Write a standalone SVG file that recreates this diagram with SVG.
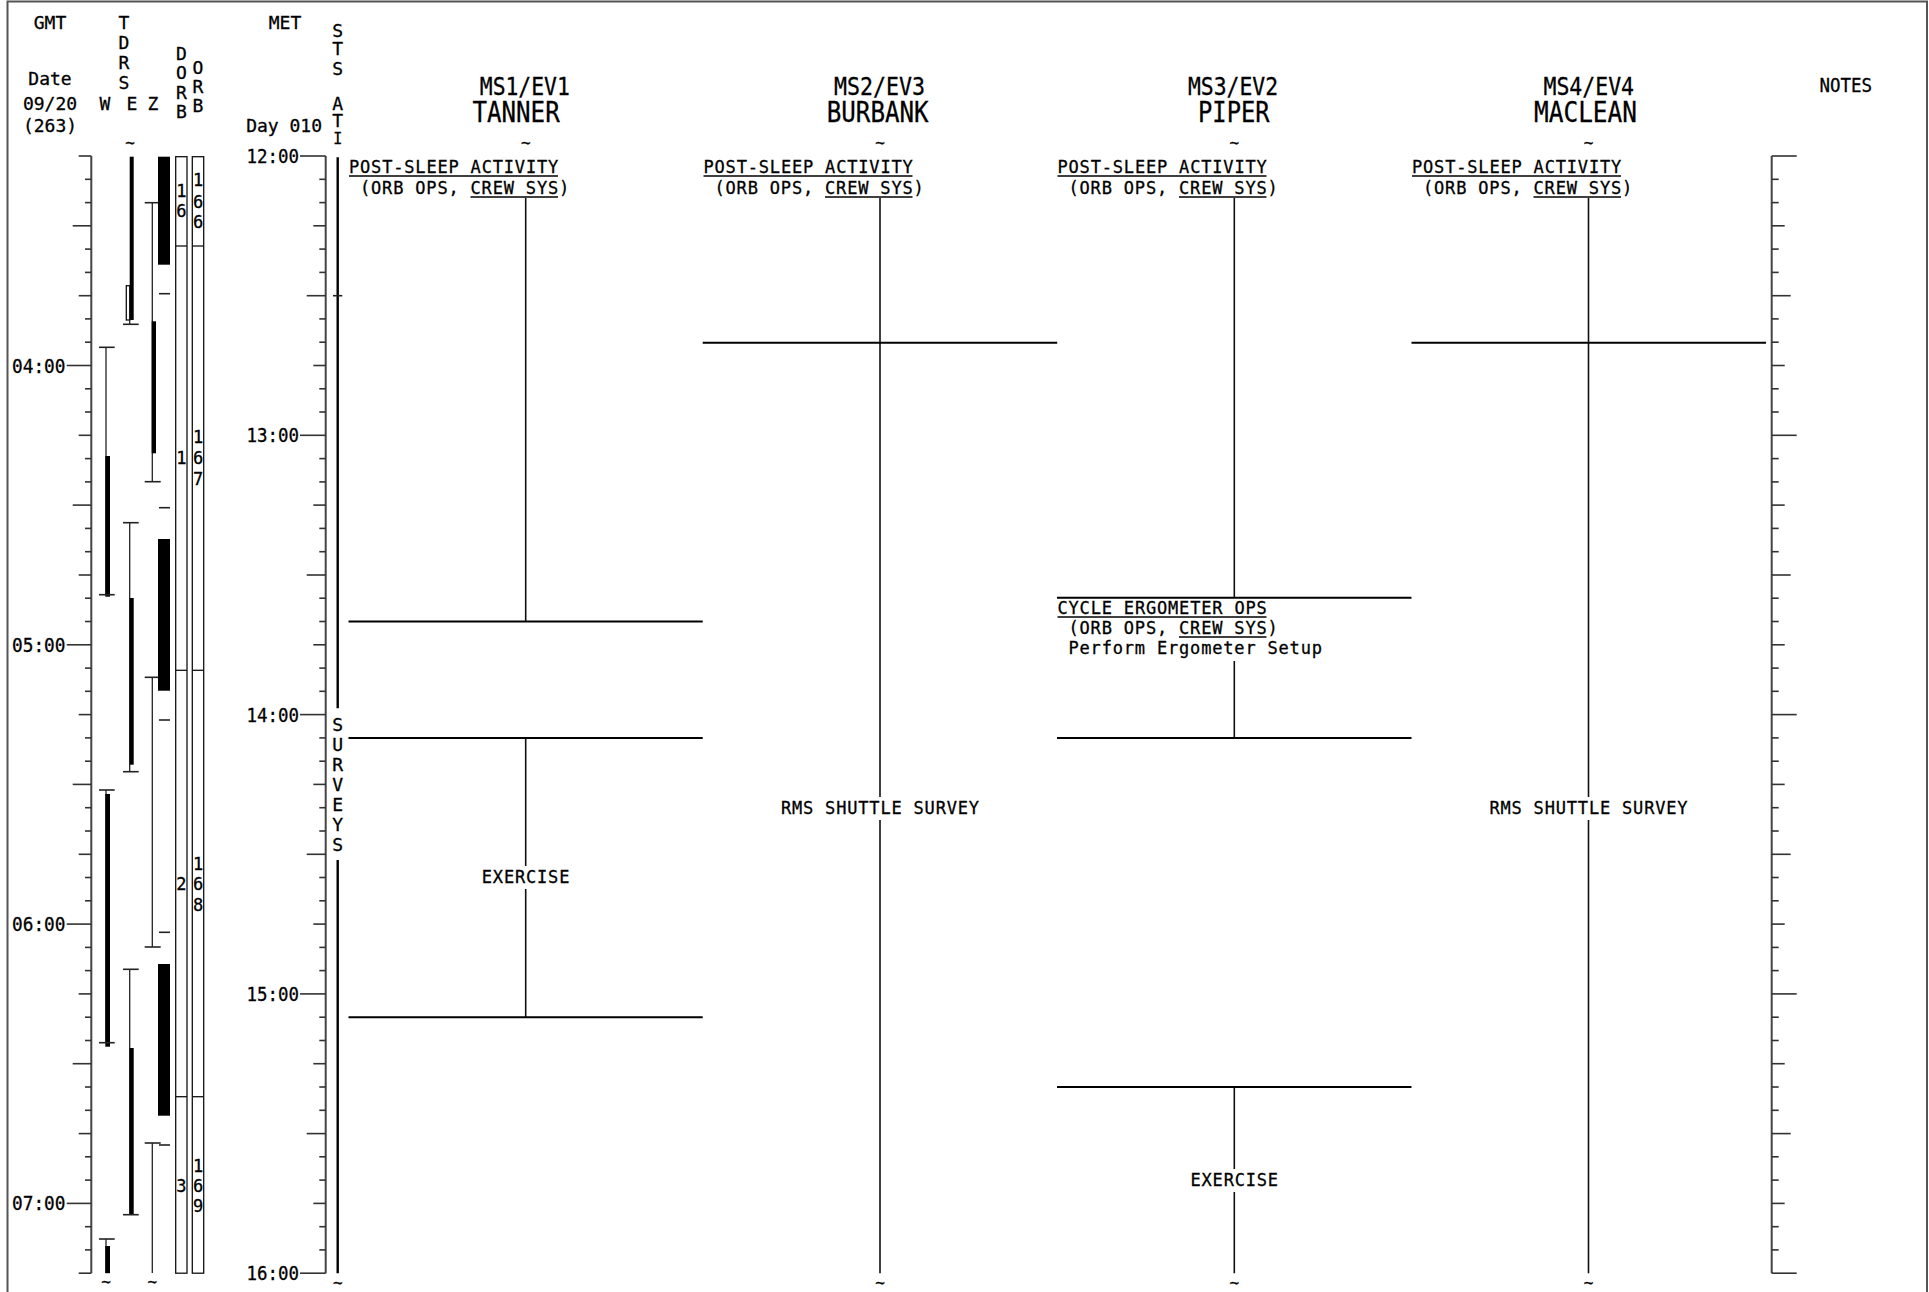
<svg xmlns="http://www.w3.org/2000/svg" xmlns:xlink="http://www.w3.org/1999/xlink" width="1929" height="1292" viewBox="0 0 1929 1292">
<style>
text{font-family:"DejaVu Sans Mono","Liberation Mono",monospace;fill:#000;stroke:#000;stroke-width:0.3}
.h{font-size:18px}
.c{text-anchor:middle}
.b{font-size:17px;letter-spacing:0.82px}
.sc{font-size:19px;text-anchor:end}
.nm{font-size:28px}
.ms{font-size:25px}
.td{font-size:16px;text-anchor:middle}
.tk{stroke:#333;stroke-width:1.6}
.ax{stroke:#444;stroke-width:2;fill:none}
.ln{stroke:#000;stroke-width:2;fill:none}
.vl{stroke:#111;stroke-width:1.6;fill:none}
.th{stroke:#222;stroke-width:1.3;fill:none}
.cap{stroke:#222;stroke-width:1.6}
.ul{stroke:#000;stroke-width:1.4}
.bar{fill:#000}
.box{fill:none;stroke:#111;stroke-width:1.3}
</style>
<defs>
<line id="m5" class="tk" x1="319.3" x2="325.7" y1="0" y2="0"/>
<line id="m15" class="tk" x1="313.3" x2="325.7" y1="0" y2="0"/>
<line id="m30" class="tk" x1="306.7" x2="325.7" y1="0" y2="0"/>
<line id="mH" class="tk" x1="300" x2="325.7" y1="0" y2="0"/>
<line id="g5" class="tk" x1="85" x2="91.3" y1="0" y2="0"/>
<line id="g15" class="tk" x1="78.7" x2="91.3" y1="0" y2="0"/>
<line id="g30" class="tk" x1="72.7" x2="91.3" y1="0" y2="0"/>
<line id="gH" class="tk" x1="66.7" x2="91.3" y1="0" y2="0"/>
<line id="n5" class="tk" x1="1771.7" x2="1778.7" y1="0" y2="0"/>
<line id="n15" class="tk" x1="1771.7" x2="1784.7" y1="0" y2="0"/>
<line id="n30" class="tk" x1="1771.7" x2="1790.7" y1="0" y2="0"/>
<line id="nH" class="tk" x1="1771.7" x2="1796.7" y1="0" y2="0"/>
</defs>
<rect width="1929" height="1292" fill="#fff"/>
<path d="M7.5,1300V1.5H1927V1300" stroke="#555" stroke-width="2" fill="none"/>

<g id="header">
<text class="h c" x="50" y="28.5">GMT</text>
<text class="h c" x="50" y="85">Date</text>
<text class="h c" x="50" y="110">09/20</text>
<text class="h c" x="50" y="131.5">(263)</text>
<text class="h c" x="124" y="28.5">T</text>
<text class="h c" x="124" y="48.5">D</text>
<text class="h c" x="124" y="68.5">R</text>
<text class="h c" x="124" y="88.5">S</text>
<text class="h c" x="105" y="110">W</text>
<text class="h c" x="132" y="110">E</text>
<text class="h c" x="153" y="110">Z</text>
<text class="h c" x="181.3" y="60">D</text>
<text class="h c" x="181.3" y="79.3">O</text>
<text class="h c" x="181.3" y="98.6">R</text>
<text class="h c" x="181.3" y="118">B</text>
<text class="h c" x="198" y="74">O</text>
<text class="h c" x="198" y="93">R</text>
<text class="h c" x="198" y="112">B</text>
<text class="h c" x="285" y="28.5">MET</text>
<text class="h" x="322" y="131.5" text-anchor="end">Day 010</text>
<text class="h c" x="337.7" y="36.5">S</text>
<text class="h c" x="337.7" y="55">T</text>
<text class="h c" x="337.7" y="74.5">S</text>
<text class="h c" x="337.7" y="109.5">A</text>
<text class="h c" x="337.7" y="127">T</text>
<text class="c" font-size="15" x="337.7" y="144">I</text>
<text class="ms" x="479.8" y="95" textLength="90" lengthAdjust="spacingAndGlyphs">MS1/EV1</text>
<text class="nm" x="472.4" y="122" textLength="87.3" lengthAdjust="spacingAndGlyphs">TANNER</text>
<text class="ms" x="834" y="95" textLength="91" lengthAdjust="spacingAndGlyphs">MS2/EV3</text>
<text class="nm" x="826.7" y="122" textLength="102" lengthAdjust="spacingAndGlyphs">BURBANK</text>
<text class="ms" x="1188" y="95" textLength="90" lengthAdjust="spacingAndGlyphs">MS3/EV2</text>
<text class="nm" x="1198" y="122" textLength="71.6" lengthAdjust="spacingAndGlyphs">PIPER</text>
<text class="ms" x="1543.5" y="95" textLength="90.5" lengthAdjust="spacingAndGlyphs">MS4/EV4</text>
<text class="nm" x="1534" y="122" textLength="103" lengthAdjust="spacingAndGlyphs">MACLEAN</text>
<text x="1819.4" y="92" font-size="19" textLength="52.6" lengthAdjust="spacingAndGlyphs">NOTES</text>
<text class="td" x="130" y="148">~</text>
<text class="td" x="525.7" y="148">~</text>
<text class="td" x="880" y="148">~</text>
<text class="td" x="1234.3" y="148">~</text>
<text class="td" x="1588.5" y="148">~</text>
<text class="td" x="106" y="1287">~</text>
<text class="td" x="152.3" y="1287">~</text>
<text class="td" x="337.7" y="1288">~</text>
<text class="td" x="880" y="1288">~</text>
<text class="td" x="1234.3" y="1288">~</text>
<text class="td" x="1588.5" y="1288">~</text>
</g>

<g id="gmt-scale">
<line class="ax" x1="91.3" y1="156" x2="91.3" y2="1273.2"/>
<use href="#gH" y="365.5"/><use href="#gH" y="644.8"/><use href="#gH" y="924.1"/><use href="#gH" y="1203.4"/>
<use href="#g30" y="225.8"/><use href="#g30" y="505.1"/><use href="#g30" y="784.4"/><use href="#g30" y="1063.7"/>
<use href="#g15" y="156"/><use href="#g15" y="295.7"/><use href="#g15" y="435.3"/><use href="#g15" y="575"/><use href="#g15" y="714.6"/><use href="#g15" y="854.3"/><use href="#g15" y="993.9"/><use href="#g15" y="1133.6"/><use href="#g15" y="1273.2"/>
<use href="#g5" y="179.3"/><use href="#g5" y="202.6"/><use href="#g5" y="249.1"/><use href="#g5" y="272.4"/><use href="#g5" y="318.9"/><use href="#g5" y="342.2"/><use href="#g5" y="388.8"/><use href="#g5" y="412"/><use href="#g5" y="458.6"/><use href="#g5" y="481.9"/><use href="#g5" y="528.4"/><use href="#g5" y="551.7"/><use href="#g5" y="598.2"/><use href="#g5" y="621.5"/><use href="#g5" y="668.1"/><use href="#g5" y="691.3"/><use href="#g5" y="737.9"/><use href="#g5" y="761.2"/><use href="#g5" y="807.7"/><use href="#g5" y="831"/><use href="#g5" y="877.5"/><use href="#g5" y="900.8"/><use href="#g5" y="947.4"/><use href="#g5" y="970.6"/><use href="#g5" y="1017.2"/><use href="#g5" y="1040.5"/><use href="#g5" y="1087"/><use href="#g5" y="1110.3"/><use href="#g5" y="1156.8"/><use href="#g5" y="1180.1"/><use href="#g5" y="1226.7"/><use href="#g5" y="1249.9"/>
<text class="sc" x="65.5" y="372.5" textLength="53.5" lengthAdjust="spacingAndGlyphs">04:00</text>
<text class="sc" x="65.5" y="651.8" textLength="53.5" lengthAdjust="spacingAndGlyphs">05:00</text>
<text class="sc" x="65.5" y="931.1" textLength="53.5" lengthAdjust="spacingAndGlyphs">06:00</text>
<text class="sc" x="65.5" y="1210.4" textLength="53.5" lengthAdjust="spacingAndGlyphs">07:00</text>
</g>

<g id="tdrs">
<g id="tdrs-w">
<line class="th" x1="106" y1="347.3" x2="106" y2="594.7"/>
<line class="cap" x1="99" y1="347.3" x2="114.7" y2="347.3"/>
<rect class="bar" x="105.3" y="456" width="4.7" height="140.7"/>
<line class="cap" x1="99" y1="594.7" x2="114.7" y2="594.7"/>
<line class="th" x1="106" y1="790" x2="106" y2="1042.7"/>
<line class="cap" x1="99" y1="790" x2="114.7" y2="790"/>
<rect class="bar" x="105.3" y="794" width="4.7" height="252.7"/>
<line class="cap" x1="99" y1="1042.7" x2="114.7" y2="1042.7"/>
<line class="th" x1="106" y1="1239" x2="106" y2="1273"/>
<line class="cap" x1="99" y1="1239" x2="114.7" y2="1239"/>
<rect class="bar" x="105.3" y="1246" width="4.7" height="27.2"/>
</g>
<g id="tdrs-e">
<rect class="bar" x="129.7" y="156.7" width="4" height="163.3"/>
<rect class="box" x="126.3" y="285.7" width="3.4" height="34.3"/>
<line class="th" x1="129.7" y1="320" x2="129.7" y2="324.3"/>
<line class="cap" x1="123" y1="324.3" x2="138.7" y2="324.3"/>
<line class="th" x1="129.7" y1="522.7" x2="129.7" y2="771.7"/>
<line class="cap" x1="123" y1="522.7" x2="138.7" y2="522.7"/>
<rect class="bar" x="129.7" y="598" width="4" height="166.7"/>
<line class="cap" x1="123" y1="771.7" x2="138.7" y2="771.7"/>
<line class="th" x1="129.7" y1="969.3" x2="129.7" y2="1214.7"/>
<line class="cap" x1="123" y1="969.3" x2="138.7" y2="969.3"/>
<rect class="bar" x="129.7" y="1048" width="4" height="166.7"/>
<line class="cap" x1="123" y1="1214.7" x2="138.7" y2="1214.7"/>
</g>
<g id="tdrs-z">
<line class="th" x1="152.3" y1="202.7" x2="152.3" y2="481.7"/>
<line class="cap" x1="144.7" y1="202.7" x2="160.7" y2="202.7"/>
<rect class="bar" x="151.7" y="321.3" width="4.3" height="132"/>
<line class="cap" x1="144.7" y1="481.7" x2="160.7" y2="481.7"/>
<line class="th" x1="152.3" y1="677.3" x2="152.3" y2="947"/>
<line class="cap" x1="144.7" y1="677.3" x2="160.7" y2="677.3"/>
<line class="cap" x1="144.7" y1="947" x2="160.7" y2="947"/>
<line class="th" x1="152.3" y1="1143" x2="152.3" y2="1273"/>
<line class="cap" x1="144.7" y1="1143" x2="160.7" y2="1143"/>
</g>
</g>

<g id="orbit">
<rect class="bar" x="158" y="156.7" width="12" height="108"/>
<rect class="bar" x="158" y="539" width="12" height="151.7"/>
<rect class="bar" x="158" y="964" width="12" height="151.7"/>
<line class="cap" x1="159" y1="293.7" x2="170" y2="293.7"/>
<line class="cap" x1="159" y1="507.7" x2="170" y2="507.7"/>
<line class="cap" x1="159" y1="720" x2="170" y2="720"/>
<line class="cap" x1="159" y1="932.3" x2="170" y2="932.3"/>
<line class="cap" x1="159" y1="1145" x2="170" y2="1145"/>
<rect class="box" x="175.7" y="156.7" width="11.3" height="1116.5"/>
<rect class="box" x="192.3" y="156.7" width="11.4" height="1116.5"/>
<line class="box" x1="175.7" y1="246" x2="187" y2="246"/>
<line class="box" x1="192.3" y1="246" x2="203.7" y2="246"/>
<line class="box" x1="175.7" y1="670.3" x2="187" y2="670.3"/>
<line class="box" x1="192.3" y1="670.3" x2="203.7" y2="670.3"/>
<line class="box" x1="175.7" y1="1096.7" x2="187" y2="1096.7"/>
<line class="box" x1="192.3" y1="1096.7" x2="203.7" y2="1096.7"/>
<g font-size="17" text-anchor="middle">
<text x="181.3" y="197">1</text><text x="181.3" y="217">6</text>
<text x="198" y="186.3">1</text><text x="198" y="207.5">6</text><text x="198" y="227.5">6</text>
<text x="181.3" y="464">1</text>
<text x="198" y="443">1</text><text x="198" y="464">6</text><text x="198" y="484.5">7</text>
<text x="181.3" y="890">2</text>
<text x="198" y="869.5">1</text><text x="198" y="890">6</text><text x="198" y="910.5">8</text>
<text x="181.3" y="1192">3</text>
<text x="198" y="1171.5">1</text><text x="198" y="1192">6</text><text x="198" y="1212">9</text>
</g>
</g>

<g id="met-scale">
<line class="ax" x1="325.7" y1="156" x2="325.7" y2="1273.2"/>
<use href="#mH" y="156"/><use href="#mH" y="435.3"/><use href="#mH" y="714.6"/><use href="#mH" y="993.9"/><use href="#mH" y="1273.2"/>
<use href="#m30" y="295.7"/><use href="#m30" y="575"/><use href="#m30" y="854.3"/><use href="#m30" y="1133.6"/>
<use href="#m15" y="225.8"/><use href="#m15" y="365.5"/><use href="#m15" y="505.1"/><use href="#m15" y="644.8"/><use href="#m15" y="784.4"/><use href="#m15" y="924.1"/><use href="#m15" y="1063.7"/><use href="#m15" y="1203.4"/>
<use href="#m5" y="179.3"/><use href="#m5" y="202.6"/><use href="#m5" y="249.1"/><use href="#m5" y="272.4"/><use href="#m5" y="318.9"/><use href="#m5" y="342.2"/><use href="#m5" y="388.8"/><use href="#m5" y="412"/><use href="#m5" y="458.6"/><use href="#m5" y="481.9"/><use href="#m5" y="528.4"/><use href="#m5" y="551.7"/><use href="#m5" y="598.2"/><use href="#m5" y="621.5"/><use href="#m5" y="668.1"/><use href="#m5" y="691.3"/><use href="#m5" y="737.9"/><use href="#m5" y="761.2"/><use href="#m5" y="807.7"/><use href="#m5" y="831"/><use href="#m5" y="877.5"/><use href="#m5" y="900.8"/><use href="#m5" y="947.4"/><use href="#m5" y="970.6"/><use href="#m5" y="1017.2"/><use href="#m5" y="1040.5"/><use href="#m5" y="1087"/><use href="#m5" y="1110.3"/><use href="#m5" y="1156.8"/><use href="#m5" y="1180.1"/><use href="#m5" y="1226.7"/><use href="#m5" y="1249.9"/>
<text class="sc" x="299" y="163" textLength="52.5" lengthAdjust="spacingAndGlyphs">12:00</text>
<text class="sc" x="299" y="442.3" textLength="52.5" lengthAdjust="spacingAndGlyphs">13:00</text>
<text class="sc" x="299" y="721.6" textLength="52.5" lengthAdjust="spacingAndGlyphs">14:00</text>
<text class="sc" x="299" y="1000.9" textLength="52.5" lengthAdjust="spacingAndGlyphs">15:00</text>
<text class="sc" x="299" y="1280.2" textLength="52.5" lengthAdjust="spacingAndGlyphs">16:00</text>
</g>

<g id="sts-atti">
<line x1="337.7" y1="157.3" x2="337.7" y2="708.3" stroke="#000" stroke-width="2.4"/>
<line x1="337.7" y1="860" x2="337.7" y2="1273.3" stroke="#000" stroke-width="2.4"/>
<line class="cap" x1="333" y1="295.7" x2="342.3" y2="295.7"/>
<text class="h c" x="337.7" y="731">S</text>
<text class="h c" x="337.7" y="751">U</text>
<text class="h c" x="337.7" y="771">R</text>
<text class="h c" x="337.7" y="791">V</text>
<text class="h c" x="337.7" y="811">E</text>
<text class="h c" x="337.7" y="831">Y</text>
<text class="h c" x="337.7" y="851">S</text>
</g>

<g id="notes-scale">
<line class="ax" x1="1771.7" y1="156" x2="1771.7" y2="1273.2"/>
<use href="#nH" y="156"/><use href="#nH" y="435.3"/><use href="#nH" y="714.6"/><use href="#nH" y="993.9"/><use href="#nH" y="1273.2"/>
<use href="#n30" y="295.7"/><use href="#n30" y="575"/><use href="#n30" y="854.3"/><use href="#n30" y="1133.6"/>
<use href="#n15" y="225.8"/><use href="#n15" y="365.5"/><use href="#n15" y="505.1"/><use href="#n15" y="644.8"/><use href="#n15" y="784.4"/><use href="#n15" y="924.1"/><use href="#n15" y="1063.7"/><use href="#n15" y="1203.4"/>
<use href="#n5" y="179.3"/><use href="#n5" y="202.6"/><use href="#n5" y="249.1"/><use href="#n5" y="272.4"/><use href="#n5" y="318.9"/><use href="#n5" y="342.2"/><use href="#n5" y="388.8"/><use href="#n5" y="412"/><use href="#n5" y="458.6"/><use href="#n5" y="481.9"/><use href="#n5" y="528.4"/><use href="#n5" y="551.7"/><use href="#n5" y="598.2"/><use href="#n5" y="621.5"/><use href="#n5" y="668.1"/><use href="#n5" y="691.3"/><use href="#n5" y="737.9"/><use href="#n5" y="761.2"/><use href="#n5" y="807.7"/><use href="#n5" y="831"/><use href="#n5" y="877.5"/><use href="#n5" y="900.8"/><use href="#n5" y="947.4"/><use href="#n5" y="970.6"/><use href="#n5" y="1017.2"/><use href="#n5" y="1040.5"/><use href="#n5" y="1087"/><use href="#n5" y="1110.3"/><use href="#n5" y="1156.8"/><use href="#n5" y="1180.1"/><use href="#n5" y="1226.7"/><use href="#n5" y="1249.9"/>
</g>

<g id="connectors">
<path class="vl" d="M525.7,198V621.5M525.7,738V866M525.7,889V1017"/>
<path class="ln" d="M348.5,621.5H702.7M348.5,738H702.7M348.5,1017.2H702.7"/>
<path class="vl" d="M880,198V797M880,820V1273.2"/>
<path class="ln" d="M702.7,342.7H1057.2"/>
<path class="vl" d="M1234.3,198V598M1234.3,661V738M1234.3,1087V1169M1234.3,1192V1273.2"/>
<path class="ln" d="M1057,597.8H1411.5M1057,738H1411.5M1057,1087H1411.5"/>
<path class="vl" d="M1588.5,198V797M1588.5,820V1273.2"/>
<path class="ln" d="M1411.5,342.7H1766"/>
</g>

<g id="ms1-post-sleep">
<text class="b" x="349" y="172.5">POST-SLEEP ACTIVITY</text>
<line class="ul" x1="349" y1="176" x2="558" y2="176"/>
<text class="b" x="360" y="193.5">(ORB OPS, CREW SYS)</text>
<line class="ul" x1="470.5" y1="197" x2="558" y2="197"/>
</g>
<g id="ms1-exercise">
<text class="b c" x="526" y="883">EXERCISE</text>
</g>
<g id="ms2-post-sleep">
<text class="b" x="703.5" y="172.5">POST-SLEEP ACTIVITY</text>
<line class="ul" x1="703.5" y1="176" x2="912.5" y2="176"/>
<text class="b" x="714.5" y="193.5">(ORB OPS, CREW SYS)</text>
<line class="ul" x1="825" y1="197" x2="912.5" y2="197"/>
</g>
<g id="ms2-rms">
<text class="b c" x="880.4" y="814">RMS SHUTTLE SURVEY</text>
</g>
<g id="ms3-post-sleep">
<text class="b" x="1057.5" y="172.5">POST-SLEEP ACTIVITY</text>
<line class="ul" x1="1057.5" y1="176" x2="1266.5" y2="176"/>
<text class="b" x="1068.5" y="193.5">(ORB OPS, CREW SYS)</text>
<line class="ul" x1="1179" y1="197" x2="1266.5" y2="197"/>
</g>
<g id="ms3-ergometer">
<text class="b" x="1057.5" y="613.5">CYCLE ERGOMETER OPS</text>
<line class="ul" x1="1057.5" y1="617" x2="1266.5" y2="617"/>
<text class="b" x="1068.5" y="633.5">(ORB OPS, CREW SYS)</text>
<line class="ul" x1="1179" y1="637" x2="1266.5" y2="637"/>
<text class="b" x="1068.5" y="653.5">Perform Ergometer Setup</text>
</g>
<g id="ms3-exercise">
<text class="b c" x="1234.7" y="1186">EXERCISE</text>
</g>
<g id="ms4-post-sleep">
<text class="b" x="1412" y="172.5">POST-SLEEP ACTIVITY</text>
<line class="ul" x1="1412" y1="176" x2="1621" y2="176"/>
<text class="b" x="1423" y="193.5">(ORB OPS, CREW SYS)</text>
<line class="ul" x1="1533.5" y1="197" x2="1621" y2="197"/>
</g>
<g id="ms4-rms">
<text class="b c" x="1588.9" y="814">RMS SHUTTLE SURVEY</text>
</g>
</svg>
